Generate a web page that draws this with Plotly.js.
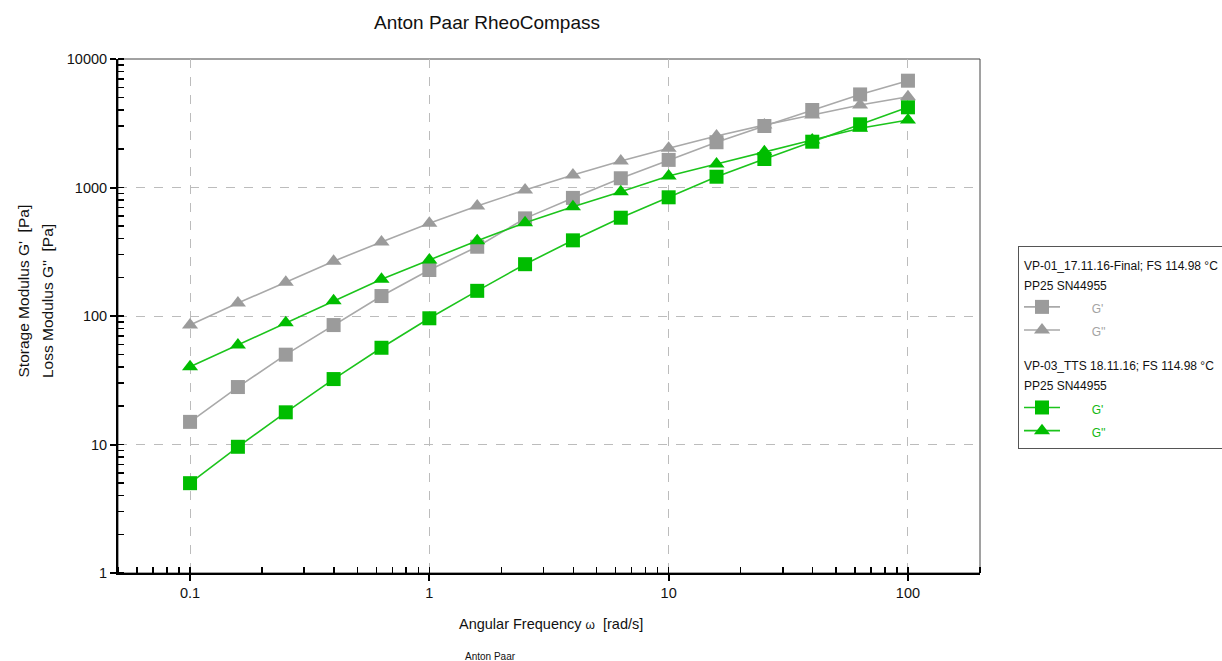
<!DOCTYPE html>
<html>
<head>
<meta charset="utf-8">
<script src="https://cdn.plot.ly/plotly-3.0.1.min.js"></script>
<style>
  html, body { margin: 0; padding: 0; background: #ffffff; }
  #chart { width: 1222px; height: 661px; }
</style>
</head>
<body>
<div id="chart"></div>
<script>
// Frequency sweep: angular frequency (rad/s)
const freq = [0.1, 0.1585, 0.2512, 0.3981, 0.631, 1, 1.585, 2.512, 3.981, 6.31, 10, 15.85, 25.12, 39.81, 63.1, 100];

// Sample VP-01 (grey)
const vp01StorageG1 = [15, 28, 50, 85, 143, 228, 346, 575, 830, 1180, 1640, 2250, 3010, 4010, 5300, 6780];
const vp01LossG2 = [85, 126, 183, 267, 377, 526, 718, 957, 1250, 1610, 2020, 2520, 3060, 3660, 4390, 5090];

// Sample VP-03 (green)
const vp03StorageG1 = [5.0, 9.6, 17.8, 32.3, 56.6, 96, 157, 253, 388, 582, 839, 1213, 1666, 2272, 3103, 4208];
const vp03LossG2 = [40.3, 59.5, 88.7, 131.5, 193, 273, 385, 532, 709, 927, 1230, 1524, 1900, 2342, 2888, 3352];

const groupTitles = [
  "VP-01_17.11.16-Final; FS 114.98 °C<br>PP25 SN44955",
  "VP-03_TTS 18.11.16; FS 114.98 °C<br>PP25 SN44955"
];
const seriesNames = ["G'", "G''"];

const xTicks = [0.1, 1, 10, 100];
const xTickText = ["0.1", "1", "10", "100"];
const yTicks = [1, 10, 100, 1000, 10000];
const yTickText = ["1", "10", "100", "1000", "10000"];

const FONT = "Liberation Sans, Arial, sans-serif";

const GREY_LINE = "#a9a9a9", GREY_MARK = "#9b9b9b", GREY_TEXT = "#a3a3a3";
const GREEN_LINE = "#1cc41c", GREEN_MARK = "#00bd00", GREEN_TEXT = "#12b812";

// Legend text is drawn at 12px inside a larger base font so the rows get more air
const pad = "\u00a0".repeat(8);
const small = (s, col) => '<span style="font-size:12px' + (col ? ';color:' + col : '') + '">' + s + '</span>';

function series(y, group, title, name, rank, sym, lineCol, markCol, textCol) {
  return {
    x: freq, y: y, type: "scatter", mode: "lines+markers",
    name: small(pad + name, textCol),
    legendgroup: group, legendrank: rank,
    legendgrouptitle: {
      text: title.split("<br>").map(t => small(t)).join("<br>"),
      font: { family: FONT, size: 15.5, color: "#111" }
    },
    line: { color: lineCol, width: 1.6 },
    marker: { symbol: sym, size: 14, color: markCol, line: { width: 0 } },
    hoverinfo: "x+y"
  };
}

const traces = [
  series(vp01LossG2, "vp01", groupTitles[0], seriesNames[1], 2, "triangle-up", GREY_LINE, GREY_MARK, GREY_TEXT),
  series(vp01StorageG1, "vp01", groupTitles[0], seriesNames[0], 1, "square", GREY_LINE, GREY_MARK, GREY_TEXT),
  series(vp03LossG2, "vp03", groupTitles[1], seriesNames[1], 4, "triangle-up", GREEN_LINE, GREEN_MARK, GREEN_TEXT),
  series(vp03StorageG1, "vp03", groupTitles[1], seriesNames[0], 3, "square", GREEN_LINE, GREEN_MARK, GREEN_TEXT)
];

const xRange = [Math.log10(0.05), Math.log10(200)];
const yRange = [0, 4];

const baseAxis = {
  type: "log", tickmode: "array",
  showline: true, linecolor: "#000", linewidth: 2,
  ticks: "outside", ticklen: 6, tickwidth: 2, tickcolor: "#000",
  showgrid: true, gridcolor: "#bcbcbc", griddash: "dash", gridwidth: 1,
  zeroline: false, fixedrange: true,
  tickfont: { family: FONT, size: 14.5, color: "#111" },
  minor: { dtick: "D1", ticks: "inside", ticklen: 6, tickwidth: 1.5, tickcolor: "#000", showgrid: false }
};

// Inner half of the decade ticks, so major ticks cross the axis line
const crossAxis = {
  type: "log", tickmode: "array", showline: false, showgrid: false, zeroline: false,
  ticks: "inside", ticklen: 6, tickwidth: 2, tickcolor: "#000", showticklabels: false, fixedrange: true
};

const layout = {
  width: 1222, height: 661,
  margin: { l: 118, r: 242, t: 59, b: 88, autoexpand: false },
  paper_bgcolor: "#ffffff", plot_bgcolor: "#ffffff",
  font: { family: FONT, color: "#111" },
  title: {
    text: "Anton Paar RheoCompass",
    font: { family: FONT, size: 19, color: "#111" },
    xref: "paper", x: (487 - 118) / 862, xanchor: "center",
    yref: "container", y: 1 - 22 / 661, yanchor: "middle"
  },
  xaxis: Object.assign({}, baseAxis, { range: xRange, tickvals: xTicks, ticktext: xTickText }),
  yaxis: Object.assign({}, baseAxis, { range: yRange, tickvals: yTicks, ticktext: yTickText }),
  xaxis2: Object.assign({}, crossAxis, { range: xRange, tickvals: xTicks, overlaying: "x", anchor: "y" }),
  yaxis2: Object.assign({}, crossAxis, { range: yRange, tickvals: yTicks, overlaying: "y", anchor: "x" }),
  showlegend: true,
  legend: {
    x: (1018 - 118) / 862, xanchor: "left",
    y: (573 - 246) / 514, yanchor: "top",
    bgcolor: "#ffffff", bordercolor: "#555", borderwidth: 1,
    font: { family: FONT, size: 15.5, color: "#111" },
    traceorder: "grouped", tracegroupgap: 11, itemwidth: 36
  },
  shapes: [
    { type: "rect", xref: "paper", yref: "paper", x0: 0, x1: 1, y0: 0, y1: 1,
      line: { color: "#444", width: 1 }, layer: "below" }
  ],
  annotations: [
    { text: "Storage Modulus G'\u00a0\u00a0[Pa]", textangle: -90, showarrow: false,
      xref: "paper", yref: "paper", x: (23 - 118) / 862, y: (573 - 380) / 514,
      xanchor: "center", yanchor: "bottom",
      font: { family: FONT, size: 15.5, color: "#111" } },
    { text: "Loss Modulus G''\u00a0\u00a0[Pa]", textangle: -90, showarrow: false,
      xref: "paper", yref: "paper", x: (47 - 118) / 862, y: (573 - 380) / 514,
      xanchor: "center", yanchor: "bottom",
      font: { family: FONT, size: 15.5, color: "#111" } },
    { text: "Angular Frequency <span style=\"font-size:12px\">ω</span>\u00a0\u00a0[rad/s]", showarrow: false,
      xref: "paper", yref: "paper", x: (551 - 118) / 862, y: (573 - 624) / 514,
      xanchor: "center", yanchor: "middle",
      font: { family: FONT, size: 14.5, color: "#111" } },
    { text: "Anton Paar", showarrow: false,
      xref: "paper", yref: "paper", x: (490 - 118) / 862, y: (573 - 656) / 514,
      xanchor: "center", yanchor: "middle",
      font: { family: FONT, size: 10, color: "#111" } }
  ]
};

Plotly.newPlot("chart", traces, layout, { displayModeBar: false, staticPlot: true });
</script>
</body>
</html>
